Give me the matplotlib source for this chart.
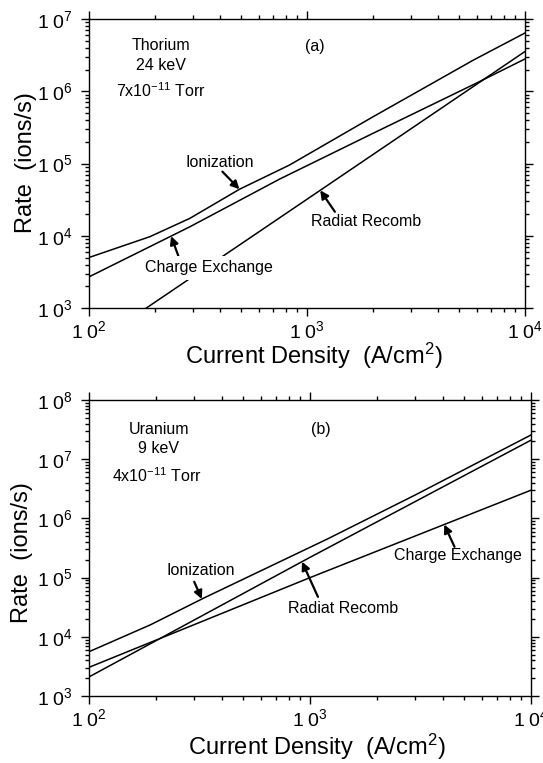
import numpy as np
import matplotlib.pyplot as plt
from matplotlib.ticker import FuncFormatter

plt.rcParams['font.family'] = 'Liberation Sans'
plt.rcParams['mathtext.fontset'] = 'custom'
plt.rcParams['mathtext.rm'] = 'Liberation Sans'
plt.rcParams['mathtext.it'] = 'Liberation Sans:italic'
plt.rcParams['mathtext.bf'] = 'Liberation Sans:bold'

# (a) Thorium, 24 keV, 7e-11 Torr : current density (A/cm2) vs rate (ions/s)
th_ion_j = [100, 190, 290, 490, 830, 2000, 5800, 10000]
th_ion = [5.0e3, 9.7e3, 1.74e4, 4.4e4, 9.5e4, 4.4e5, 2.7e6, 6.4e6]
th_cx_j = [100, 290, 750, 2000, 6000, 10000]
th_cx = [2.7e3, 1.33e4, 6.1e4, 2.6e5, 1.3e6, 2.8e6]
th_rr_j = [100, 1000, 10000]
th_rr = [2.9e2, 3.2e4, 3.55e6]

# (b) Uranium, 9 keV, 4e-11 Torr
u_ion_j = [100, 190, 330, 1200, 3000, 10000]
u_ion = [5.6e3, 1.6e4, 4.5e4, 4.5e5, 2.5e6, 2.57e7]
u_cx_j = [100, 1000, 10000]
u_cx = [3.05e3, 1.0e5, 3.0e6]
u_rr_j = [100, 1000, 10000]
u_rr = [2.1e3, 2.2e5, 2.1e7]


def on_curve(j, js, rs):
    # point on a log-log polyline at current density j
    return j, 10 ** np.interp(np.log10(j), np.log10(js), np.log10(rs))


def pow10(v, pos):
    return r'$\mathregular{1\;0^{%d}}$' % int(round(np.log10(v)))


def style_axes(ax, ylim):
    ax.set_xscale('log')
    ax.set_yscale('log')
    ax.set_xlim(1e2, 1e4)
    ax.set_ylim(*ylim)
    ax.xaxis.set_major_formatter(FuncFormatter(pow10))
    ax.yaxis.set_major_formatter(FuncFormatter(pow10))
    ax.xaxis.set_minor_formatter(FuncFormatter(lambda v, p: ''))
    ax.yaxis.set_minor_formatter(FuncFormatter(lambda v, p: ''))
    ax.tick_params(which='both', direction='out', top=True, right=True,
                   labelsize=14, width=1.0)
    ax.tick_params(axis='x', pad=3)
    ax.tick_params(axis='y', pad=6)
    ax.tick_params(which='major', length=6)
    ax.tick_params(which='minor', length=3)
    for s in ax.spines.values():
        s.set_linewidth(1.0)
    ax.set_xlabel('Current Density  (A/cm$^2$)', fontsize=17, va='center')
    ax.set_ylabel('Rate  (ions/s)', fontsize=17, va='center')


def arrow(ax, tip, tail):
    ax.annotate('', xy=tip, xytext=tail, textcoords='axes fraction',
                arrowprops=dict(arrowstyle='-|>', color='black', lw=1.6,
                                mutation_scale=12, shrinkA=0, shrinkB=0))


fig = plt.figure(figsize=(5.43, 7.63), dpi=100)
ax1 = fig.add_axes([0.1639, 0.5963, 0.8029, 0.3788])
ax2 = fig.add_axes([0.1639, 0.0878, 0.8140, 0.3879])

lw = 1.1
txt = 11.5

# --- panel (a)
ax1.plot(th_ion_j, th_ion, color='black', lw=lw)
ax1.plot(th_cx_j, th_cx, color='black', lw=lw)
ax1.plot(th_rr_j, th_rr, color='black', lw=lw)
style_axes(ax1, (1e3, 1e7))
ax1.xaxis.set_label_coords(0.515, -0.165)
ax1.yaxis.set_label_coords(-0.145, 0.505)

ax1.text(0.164, 0.907, 'Thorium', transform=ax1.transAxes, fontsize=txt, ha='center', va='center')
ax1.text(0.164, 0.838, '24 keV', transform=ax1.transAxes, fontsize=txt, ha='center', va='center')
ax1.text(0.164, 0.752, '7x10$^{-11}$ Torr', transform=ax1.transAxes, fontsize=txt, ha='center', va='center')
ax1.text(0.518, 0.904, '(a)', transform=ax1.transAxes, fontsize=txt, ha='center', va='center')

ax1.text(0.300, 0.503, 'Ionization', transform=ax1.transAxes, fontsize=txt, ha='center', va='center')
arrow(ax1, on_curve(490, th_ion_j, th_ion), (0.306, 0.472))
# white box breaks the recombination line behind the label
ax1.text(0.274, 0.139, 'Charge Exchange', transform=ax1.transAxes, fontsize=txt,
         ha='center', va='center', zorder=5,
         bbox=dict(facecolor='white', edgecolor='none', pad=3))
arrow(ax1, on_curve(238, th_cx_j, th_cx), (0.205, 0.180))
ax1.text(0.635, 0.299, 'Radiat Recomb', transform=ax1.transAxes, fontsize=txt, ha='center', va='center')
arrow(ax1, on_curve(1150, th_rr_j, th_rr), (0.564, 0.333))

# --- panel (b)
ax2.plot(u_ion_j, u_ion, color='black', lw=lw)
ax2.plot(u_cx_j, u_cx, color='black', lw=lw)
ax2.plot(u_rr_j, u_rr, color='black', lw=lw)
style_axes(ax2, (1e3, 1e8))
ax2.xaxis.set_label_coords(0.516, -0.171)
ax2.yaxis.set_label_coords(-0.152, 0.486)

ax2.text(0.158, 0.902, 'Uranium', transform=ax2.transAxes, fontsize=txt, ha='center', va='center')
ax2.text(0.158, 0.835, '9 keV', transform=ax2.transAxes, fontsize=txt, ha='center', va='center')
ax2.text(0.154, 0.743, '4x10$^{-11}$ Torr', transform=ax2.transAxes, fontsize=txt, ha='center', va='center')
ax2.text(0.525, 0.899, '(b)', transform=ax2.transAxes, fontsize=txt, ha='center', va='center')

ax2.text(0.253, 0.423, 'Ionization', transform=ax2.transAxes, fontsize=txt, ha='center', va='center')
arrow(ax2, on_curve(324, u_ion_j, u_ion), (0.238, 0.386))
ax2.text(0.575, 0.294, 'Radiat Recomb', transform=ax2.transAxes, fontsize=txt, ha='center', va='center')
arrow(ax2, on_curve(920, u_rr_j, u_rr), (0.518, 0.335))
ax2.text(0.834, 0.474, 'Charge Exchange', transform=ax2.transAxes, fontsize=txt, ha='center', va='center')
arrow(ax2, on_curve(4050, u_cx_j, u_cx), (0.827, 0.504))

fig.savefig('out.png', dpi=100)
